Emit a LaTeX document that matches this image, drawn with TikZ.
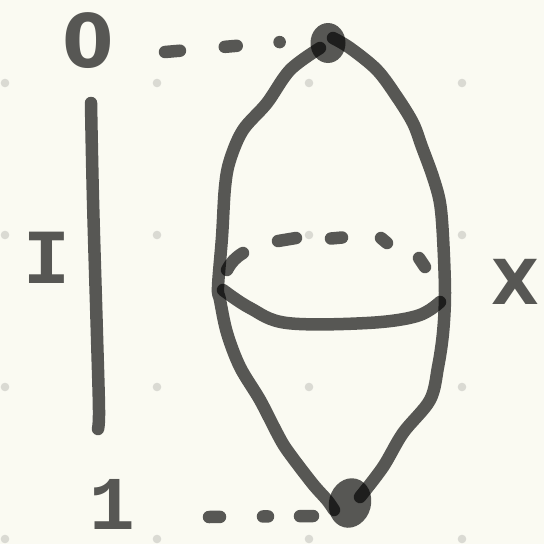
\documentclass[tikz,border=0pt]{standalone}
\usepackage{fontspec}
\newfontfamily\monof{Liberation Mono}
\newfontfamily\sansf{DejaVu Sans}
\usetikzlibrary{shapes.geometric}
\definecolor{paper}{RGB}{250,250,242}
\definecolor{griddot}{RGB}{218,218,211}
\tikzset{
  pen/.style={line width=12.5pt, draw=black, draw opacity=0.65, line cap=round, line join=round},
  blob/.style={ellipse, fill=black, fill opacity=0.65, draw=none, inner sep=0pt},
  lab/.style={text=black, text opacity=0.65, inner sep=0pt, anchor=center},
}
\begin{document}
\begin{tikzpicture}[x=1pt,y=-1pt]
\useasboundingbox (0,0) rectangle (544,544);
\fill[paper] (0,0) rectangle (544,544);
% grid dots
\foreach \gx in {5,157,309,462}
  \foreach \gy in {83,235,387,539}
    \fill[griddot] (\gx,\gy) circle (4.3pt);

% labels
\node[lab, font=\sansf\bfseries\fontsize{74}{76}\selectfont] (lzero) at (88,41) {0};
\node[lab, font=\monof\bfseries\fontsize{78}{80}\selectfont] (lI) at (47,258) {I};
\node[lab, font=\monof\bfseries\fontsize{76}{78}\selectfont] (lone) at (112,504) {1};
\node[lab, font=\sansf\bfseries\fontsize{62}{64}\selectfont] (lX) at (515,282) {X};

% the two end points
\node[blob, minimum width=35pt, minimum height=40pt] (ptop) at (328,43) {};
\node[blob, minimum width=42pt, minimum height=50pt, rotate=-15] (pbot) at (350,503) {};

% interval segment
\coordinate (ia) at (91,103);
\coordinate (ib) at (98,429);
\draw[pen] plot[smooth, tension=0.6] coordinates {(ia) (93,200) (97,336) (99,410) (ib)};

% dashed links from the labels to the points
\coordinate (dza) at (165,52);
\coordinate (dzb) at (281,42);
\draw[pen, dash pattern=on 15pt off 45pt on 12pt off 43pt on 0.1pt off 100pt] (dza) -- (dzb);
\coordinate (doa) at (209,517);
\coordinate (dob) at (313,516);
\draw[pen, dash pattern=on 11pt off 43pt on 5pt off 32pt on 13pt off 100pt] (doa) -- (dob);

% left meridian
\draw[pen] plot[smooth, tension=0.55] coordinates {(320,48) (290,70) (267,103) (243,130) (230,160) (225,187) (222,237) (218,287) (220,300) (227,333) (240,367) (260,400) (277,433) (287,450) (312,483) (327,500) (334,510)};
% right meridian
\draw[pen] plot[smooth, tension=0.55] coordinates {(333,38) (350,48) (377,70) (397,97) (413,123) (422,147) (433,177) (440,203) (443,237) (445,293) (443,333) (438,367) (430,400) (403,433) (383,467) (360,497)};

% equator, front (solid)
\draw[pen] plot[smooth, tension=0.6] coordinates {(223,290) (250,308) (287,323) (367,323) (417,316) (440,302)};
% equator, back (dashed)
\draw[pen] (227,270) to[bend left=15] (243,253);
\draw[pen] (278,241) -- (296,238);
\draw[pen] (331,238.5) -- (342,237.5);
\draw[pen] (381,238) -- (387,243);
\draw[pen] (419,258) -- (425,267);
\end{tikzpicture}
\end{document}
